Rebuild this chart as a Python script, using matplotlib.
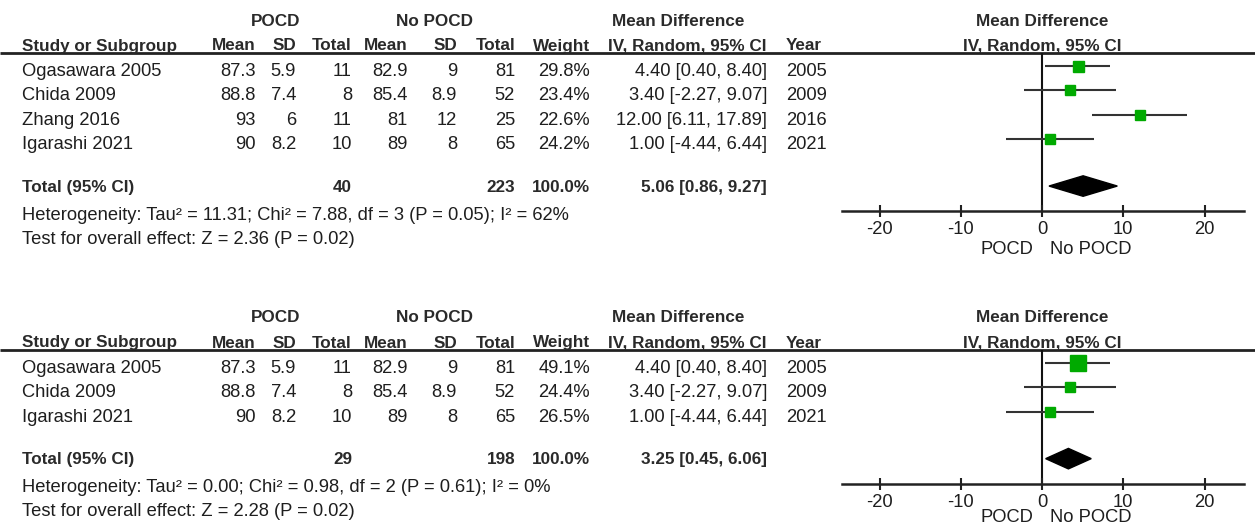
import matplotlib
matplotlib.use("Agg")
import matplotlib.pyplot as plt
from matplotlib.patches import Polygon

plt.rcParams['font.family'] = ['Liberation Sans', 'DejaVu Sans']

# ---------------- data ----------------
studies1 = ["Ogasawara 2005", "Chida 2009", "Zhang 2016", "Igarashi 2021"]
pocd_mean1 = [87.3, 88.8, 93, 90]
pocd_sd1 = [5.9, 7.4, 6, 8.2]
pocd_n1 = [11, 8, 11, 10]
ctrl_mean1 = [82.9, 85.4, 81, 89]
ctrl_sd1 = [9, 8.9, 12, 8]
ctrl_n1 = [81, 52, 25, 65]
weight1 = [29.8, 23.4, 22.6, 24.2]
md1 = [4.40, 3.40, 12.00, 1.00]
lo1 = [0.40, -2.27, 6.11, -4.44]
hi1 = [8.40, 9.07, 17.89, 6.44]
year1 = [2005, 2009, 2016, 2021]
total1 = dict(n_pocd=40, n_ctrl=223, md=5.06, lo=0.86, hi=9.27)
het1 = "Heterogeneity: Tau\u00b2 = 11.31; Chi\u00b2 = 7.88, df = 3 (P = 0.05); I\u00b2 = 62%"
test1 = "Test for overall effect: Z = 2.36 (P = 0.02)"

studies2 = ["Ogasawara 2005", "Chida 2009", "Igarashi 2021"]
pocd_mean2 = [87.3, 88.8, 90]
pocd_sd2 = [5.9, 7.4, 8.2]
pocd_n2 = [11, 8, 10]
ctrl_mean2 = [82.9, 85.4, 89]
ctrl_sd2 = [9, 8.9, 8]
ctrl_n2 = [81, 52, 65]
weight2 = [49.1, 24.4, 26.5]
md2 = [4.40, 3.40, 1.00]
lo2 = [0.40, -2.27, -4.44]
hi2 = [8.40, 9.07, 6.44]
year2 = [2005, 2009, 2021]
total2 = dict(n_pocd=29, n_ctrl=198, md=3.25, lo=0.45, hi=6.06)
het2 = "Heterogeneity: Tau\u00b2 = 0.00; Chi\u00b2 = 0.98, df = 2 (P = 0.61); I\u00b2 = 0%"
test2 = "Test for overall effect: Z = 2.28 (P = 0.02)"

xticks = [-20, -10, 0, 10, 20]

# ---------------- layout ----------------
W, H = 1255, 526
fig = plt.figure(figsize=(W / 100, H / 100), dpi=100)
tab = fig.add_axes([0, 0, 1, 1])
tab.set_xlim(0, W)
tab.set_ylim(H, 0)
tab.axis('off')

TXT = '#1e1e1e'
FS = 13.2
FSB = 12.3
GREEN = '#00aa00'
ROWH = 24.4
X0PX, PXU = 1042, 8.125
XL = (842 - X0PX) / PXU
XR = (1244 - X0PX) / PXU


def fmt(v):
    return '{:g}'.format(v)


def panel(top, studies, pm, psd, pn, cm, csd, cn, wt, md, lo, hi, yr, tot, het, test):
    n = len(studies)
    # header
    hy1, hy2 = top - 32, top - 7
    bold = dict(fontsize=FSB, fontweight='bold', color='#2a2a2a', va='center')
    tab.text(276, hy1, "POCD", ha='center', **bold)
    tab.text(435, hy1, "No POCD", ha='center', **bold)
    tab.text(678, hy1, "Mean Difference", ha='center', **bold)
    tab.text(X0PX, hy1, "Mean Difference", ha='center', **bold)
    tab.text(22, hy2, "Study or Subgroup", ha='left', **bold)
    for x, s in [(256, "Mean"), (296, "SD"), (352, "Total"), (408, "Mean"),
                 (457, "SD"), (515, "Total"), (590, "Weight"), (767, "IV, Random, 95% CI")]:
        tab.text(x, hy2, s, ha='right', **bold)
    tab.text(786, hy2, "Year", ha='left', **bold)
    tab.text(X0PX, hy2, "IV, Random, 95% CI", ha='center', **bold)
    tab.plot([0, W], [top, top], color='#222222', lw=2, solid_capstyle='butt')

    reg = dict(fontsize=FS, color=TXT, va='center')
    row0 = top + 13
    for i in range(n):
        y = row0 + ROWH * i + 5.5
        tab.text(22, y, studies[i], ha='left', **reg)
        tab.text(256, y, fmt(pm[i]), ha='right', **reg)
        tab.text(296, y, fmt(psd[i]), ha='right', **reg)
        tab.text(352, y, str(pn[i]), ha='right', **reg)
        tab.text(408, y, fmt(cm[i]), ha='right', **reg)
        tab.text(457, y, fmt(csd[i]), ha='right', **reg)
        tab.text(515, y, str(cn[i]), ha='right', **reg)
        tab.text(590, y, "{:.1f}%".format(wt[i]), ha='right', **reg)
        tab.text(767, y, "{:.2f} [{:.2f}, {:.2f}]".format(md[i], lo[i], hi[i]), ha='right', **reg)
        tab.text(786, y, str(yr[i]), ha='left', **reg)
    ty = row0 + ROWH * (n + 0.92) + 1
    tab.text(22, ty, "Total (95% CI)", ha='left', **bold)
    tab.text(352, ty, str(tot['n_pocd']), ha='right', **bold)
    tab.text(515, ty, str(tot['n_ctrl']), ha='right', **bold)
    tab.text(590, ty, "100.0%", ha='right', **bold)
    tab.text(767, ty, "{:.2f} [{:.2f}, {:.2f}]".format(tot['md'], tot['lo'], tot['hi']),
             ha='right', **bold)
    tab.text(22, ty + 28, het, ha='left', **reg)
    tab.text(22, ty + 52, test, ha='left', **reg)

    # forest axes
    ybot_rows = n + 1.94
    axis_px = row0 + ROWH * ybot_rows
    ytop_rows = (top - row0) / ROWH
    ax = fig.add_axes([842 / W, 1 - axis_px / H, (1244 - 842) / W, (axis_px - top) / H])
    ax.patch.set_alpha(0)
    ax.set_xlim(XL, XR)
    ax.set_ylim(ybot_rows, ytop_rows)
    for s in ['top', 'left', 'right']:
        ax.spines[s].set_visible(False)
    ax.spines['bottom'].set_linewidth(1.8)
    ax.spines['bottom'].set_color('#222222')
    ax.set_yticks([])
    ax.set_xticks(xticks)
    ax.set_xticklabels([str(t) for t in xticks])
    ax.tick_params(axis='x', direction='inout', length=9, width=1.5, colors='#222222',
                   labelsize=FS, labelcolor=TXT, pad=3)
    ax.axvline(0, color='#111111', lw=1.5, zorder=1)
    rows = list(range(n))
    ax.hlines(rows, lo, hi, color='#333333', lw=1.5, zorder=2)
    for i in range(n):
        side_px = 11 * (wt[i] / 29.8) ** 0.68
        ax.plot(md[i], rows[i], marker='s', ms=side_px * 0.72, color=GREEN,
                mec=GREEN, ls='none', zorder=3)
    dr = n + 0.92
    hh = 0.42
    ax.add_patch(Polygon([(tot['lo'], dr), (tot['md'], dr - hh), (tot['hi'], dr),
                          (tot['md'], dr + hh)], closed=True, color='black', zorder=3))
    ly = min(axis_px + 39, H - 9)
    tab.text(1033, ly, "POCD", ha='right', **reg)
    tab.text(1050, ly, "No POCD", ha='left', **reg)


panel(53, studies1, pocd_mean1, pocd_sd1, pocd_n1, ctrl_mean1, ctrl_sd1, ctrl_n1,
      weight1, md1, lo1, hi1, year1, total1, het1, test1)
panel(350, studies2, pocd_mean2, pocd_sd2, pocd_n2, ctrl_mean2, ctrl_sd2, ctrl_n2,
      weight2, md2, lo2, hi2, year2, total2, het2, test2)

fig.savefig("out.png", dpi=100)
